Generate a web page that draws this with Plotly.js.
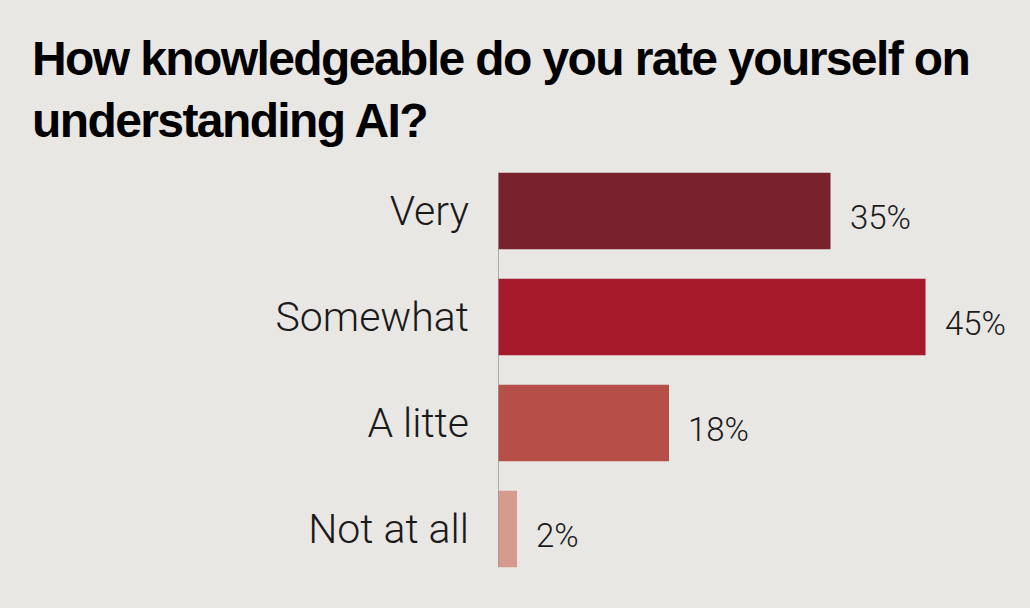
<!DOCTYPE html>
<html>
<head>
<meta charset="utf-8">
<script src="https://cdn.plot.ly/plotly-3.0.1.min.js"></script>
<style>
html,body{margin:0;padding:0;background:#e9e7e4;}
#chart{width:1030px;height:608px;}
#chart .gtitle{letter-spacing:-1.6px;}
</style>
</head>
<body>
<div id="chart"></div>
<script>
const categories = ["Very", "Somewhat", "A litte", "Not at all"];
const values = [35, 45, 18, 2];
const valueLabels = ["35%", "45%", "18%", "2%"];
const barColors = ["#78222e", "#a6192b", "#b54f48", "#d69a8f"];
const titleText = "How knowledgeable do you rate yourself on<br>understanding AI?";

const trace = {
  type: "bar",
  orientation: "h",
  y: categories,
  x: values,
  marker: {color: barColors, line: {width: 0}},
  hoverinfo: "none",
  showlegend: false
};

const annotations = categories.map((c, i) => ({
  x: values[i], y: c, xref: "x", yref: "y",
  text: valueLabels[i], showarrow: false,
  xanchor: "left", yanchor: "middle", xshift: 17, yshift: -6,
  font: {family: "Roboto, 'Noto Sans', sans-serif", size: 33, color: "#1a1a1a", weight: 300}
}));

const layout = {
  width: 1030, height: 608,
  paper_bgcolor: "#e9e7e4", plot_bgcolor: "#e9e7e4",
  margin: {l: 498, r: 0, t: 158, b: 26},
  bargap: 0.28,
  title: {
    text: titleText,
    x: 32/1030, xref: "container", xanchor: "left",
    y: 1 - 75/608, yref: "container", yanchor: "top",
    font: {family: "'Liberation Sans', Arial, sans-serif", size: 48, color: "#000", weight: 700}
  },
  xaxis: {range: [0, 56], visible: false, fixedrange: true},
  yaxis: {
    autorange: "reversed", showline: false, showgrid: false, zeroline: false,
    ticks: "", ticklabelstandoff: 28,
    tickfont: {family: "Roboto, 'Noto Sans', sans-serif", size: 41, color: "#1a1a1a", weight: 300},
    fixedrange: true
  },
  shapes: [{
    type: "line", xref: "x", yref: "y",
    x0: 0, x1: 0, y0: -0.36, y1: 3.36,
    line: {color: "#9a9a9a", width: 1.5}
  }],
  annotations: annotations
};

Plotly.newPlot("chart", [trace], layout, {displayModeBar: false, staticPlot: true});
</script>
</body>
</html>
